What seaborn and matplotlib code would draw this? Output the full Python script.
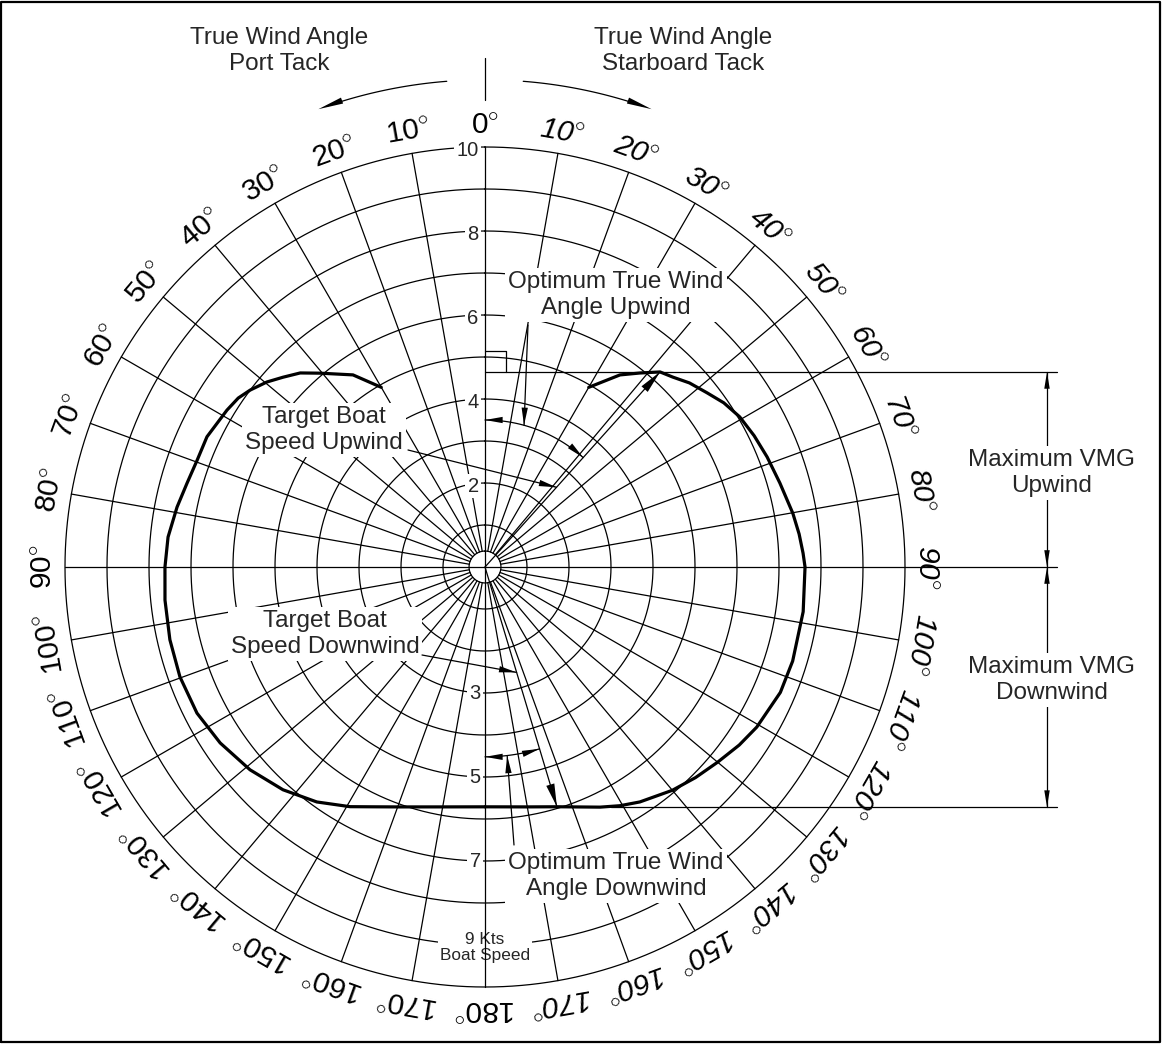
import numpy as np
import pandas as pd
import matplotlib
matplotlib.use("Agg")
import matplotlib.pyplot as plt
import seaborn as sns

# ---------------- data ----------------
stbd_angle = [30, 35.1, 38.6, 41.9, 44.7, 48, 51.9, 55.5, 59.5, 64, 68.7, 74.1, 80.1, 84,
              87.5, 90, 98, 107, 113, 120.5, 125, 130, 135, 140, 146.6, 150.5, 154.4, 163.3, 170, 180]
stbd_speed = [4.94, 5.59, 5.91, 6.24, 6.36, 6.55, 6.72, 6.90, 7.04, 7.13, 7.21, 7.30, 7.44, 7.52,
              7.58, 7.62, 7.65, 7.66, 7.64, 7.51, 7.39, 7.23, 7.09, 6.94, 6.70, 6.53, 6.34, 5.96, 5.80, 5.71]
port_angle = [30, 34.5, 40.4, 43.6, 46.8, 49.7, 53, 55.6, 58.7, 64.9, 69.6, 74.3, 79, 84.6, 90, 95.9, 103,
              109.8, 116.9, 123.6, 130.8, 137.8, 144.4, 150.6, 155, 160.5, 170, 180]
port_speed = [4.94, 5.55, 6.06, 6.38, 6.60, 6.81, 7.00, 7.12, 7.19, 7.31, 7.31, 7.37, 7.47, 7.58, 7.62, 7.66, 7.70,
              7.72, 7.69, 7.57, 7.39, 7.16, 6.88, 6.55, 6.30, 6.06, 5.80, 5.71]

ring_speeds = [1, 2, 3, 4, 5, 6, 7, 8, 9, 10]
upper_ring_labels = [2, 4, 6, 8, 10]
lower_ring_labels = [3, 5, 7]
grid_angles = [10, 20, 30, 40, 50, 60, 70, 80, 100, 110, 120, 130, 140, 150, 160, 170]
degree_labels = list(range(0, 190, 10))
opt_up_angle = 41.9
opt_down_angle = 163.3
up_arc_speed = 3.5
down_arc_speed = 4.52

# ---------------- figure ----------------
sns.set_theme(style="white")
plt.rcParams['font.family'] = ['Liberation Sans', 'DejaVu Sans']
plt.rcParams['mathtext.fontset'] = 'custom'
plt.rcParams['mathtext.rm'] = 'Liberation Sans'

W, H = 1162, 1044
CX, CY, S = 485, 567, 42.0
fig = plt.figure(figsize=(W / 100, H / 100), dpi=100)
ax = fig.add_axes([0, 0, 1, 1])

def px(x, y):
    return (x - CX) / S, (CY - y) / S

def pol(theta, r, side=1):
    t = np.radians(theta)
    return side * r * np.sin(t), r * np.cos(t)

LW = 0.9
K = 'black'

# polar curve (seaborn)
sx = [pol(a, r, 1)[0] for a, r in zip(stbd_angle, stbd_speed)]
sy = [pol(a, r, 1)[1] for a, r in zip(stbd_angle, stbd_speed)]
qx = [pol(a, r, -1)[0] for a, r in zip(port_angle, port_speed)]
qy = [pol(a, r, -1)[1] for a, r in zip(port_angle, port_speed)]
df_s = pd.DataFrame({'x': sx, 'y': sy})
df_p = pd.DataFrame({'x': qx, 'y': qy})
sns.lineplot(data=df_s, x='x', y='y', sort=False, estimator=None, color=K, lw=2.3, ax=ax, zorder=3)
sns.lineplot(data=df_p, x='x', y='y', sort=False, estimator=None, color=K, lw=2.3, ax=ax, zorder=3)
for l in ax.lines:
    l.set_solid_joinstyle('round')
ax.set_xlim(-CX / S, (W - CX) / S)
ax.set_ylim((CY - H) / S, CY / S)
ax.axis('off')

# rings
tt = np.linspace(0, 2 * np.pi, 1441)
for r in ring_speeds:
    ax.plot(r * np.sin(tt), r * np.cos(tt), color=K, lw=LW, zorder=1)
hub = 0.38
ax.plot(hub * np.sin(tt), hub * np.cos(tt), color=K, lw=LW, zorder=1)

# radial grid
for a in grid_angles:
    for side in (1, -1):
        x0, y0 = pol(a, hub, side)
        x1, y1 = pol(a, 10, side)
        ax.plot([x0, x1], [y0, y1], color=K, lw=LW, zorder=1)

# main axes
ax.plot([0, 0], [-10, 10], color=K, lw=LW, zorder=6)
x_right = (1057 - CX) / S
ax.plot([-10, x_right], [0, 0], color=K, lw=LW, zorder=1)

# degree labels
RL = 10.5
DFS = 21.5
for a in degree_labels:
    x, y = pol(a, RL, 1)
    ax.text(x, y, f"{a}" + r"$^{\circ}$", rotation=-a, rotation_mode='anchor', ha='center', va='center',
            fontsize=DFS, color=K, style='italic' if 0 < a < 180 else 'normal')
    if 0 < a < 180:
        x, y = pol(a, RL, -1)
        ax.text(x, y, f"{a}" + r"$^{\circ}$", rotation=a, rotation_mode='anchor', ha='center', va='center',
                fontsize=DFS, color=K)

box = dict(boxstyle='square,pad=0.12', fc='white', ec='none')

# ring labels
for r in upper_ring_labels:
    ax.text(-0.15, r - 0.08, str(r), ha='right', va='center', fontsize=14.5, bbox=box, zorder=4)
for r in lower_ring_labels:
    ax.text(-0.1, -r - 0.02, str(r), ha='right', va='center', fontsize=14.5, bbox=box, zorder=4)
ax.text(0, -9.05, "9 Kts\nBoat Speed", ha='center', va='center', fontsize=12.4,
        linespacing=1.1, bbox=box, zorder=4)

def arrowhead(tip, direction, length=0.42, width=0.15, z=5):
    d = np.asarray(direction, float)
    d = d / np.hypot(*d)
    n = np.array([-d[1], d[0]])
    tip = np.asarray(tip, float)
    base = tip - d * length
    pts = np.array([tip, base + n * width / 2, base - n * width / 2])
    ax.fill(pts[:, 0], pts[:, 1], color=K, lw=0, zorder=z)

def line(p0, p1, lw=LW, z=5):
    ax.plot([p0[0], p1[0]], [p0[1], p1[1]], color=K, lw=lw, zorder=z)

# VMG values
vmg_up = max(r * np.cos(np.radians(a)) for a, r in zip(stbd_angle, stbd_speed))
vmg_dn = min(r * np.cos(np.radians(a)) for a, r in zip(stbd_angle, stbd_speed))
r_opt_up = stbd_speed[stbd_angle.index(opt_up_angle)]
r_opt_dn = stbd_speed[stbd_angle.index(opt_down_angle)]

# VMG lines
line((0, vmg_up), (x_right, vmg_up), z=2)
line((3.0, vmg_dn), (x_right, vmg_dn), z=2)
sq = 0.5
ax.plot([0, sq, sq], [vmg_up + sq, vmg_up + sq, vmg_up], color=K, lw=LW, zorder=2)

# optimum radial lines
tip = pol(opt_up_angle, r_opt_up)
line((0, 0), tip)
arrowhead(tip, tip, length=0.55, width=0.2)
tip = pol(opt_down_angle, r_opt_dn)
line((0, 0), tip)
arrowhead(tip, tip, length=0.55, width=0.2)

# angle dimension arcs
aa = np.linspace(0, opt_up_angle, 100)
ax.plot(*pol(aa, up_arc_speed), color=K, lw=LW, zorder=5)
arrowhead(pol(0, up_arc_speed), (-1, 0))
t1 = np.radians(opt_up_angle)
arrowhead(pol(opt_up_angle, up_arc_speed), (np.cos(t1), -np.sin(t1)))

aa = np.linspace(opt_down_angle, 180, 100)
ax.plot(*pol(aa, down_arc_speed), color=K, lw=LW, zorder=5)
arrowhead(pol(180, down_arc_speed), (-1, 0))
t1 = np.radians(opt_down_angle)
arrowhead(pol(opt_down_angle, down_arc_speed), (-np.cos(t1), np.sin(t1)))

# leaders
def leader(p0, tip, **kw):
    line(p0, tip)
    arrowhead(tip, (tip[0] - p0[0], tip[1] - p0[1]), **kw)

leader(px(528, 325), pol(15.4, up_arc_speed))
leader(px(408, 450), pol(opt_up_angle, 2.55))
leader(px(422, 655), pol(opt_down_angle, 2.62))
leader(px(514, 845), pol(173.3, down_arc_speed))

# annotation texts
FS = 17.5
ax.text(*px(616, 295), "Optimum True Wind\nAngle Upwind", ha='center', va='center', fontsize=FS, bbox=box, zorder=4)
ax.text(*px(616, 876), "Optimum True Wind\nAngle Downwind", ha='center', va='center', fontsize=FS, bbox=box, zorder=4)
ax.text(*px(324, 430), "Target Boat\nSpeed Upwind", ha='center', va='center', fontsize=FS, bbox=box, zorder=4)
ax.text(*px(325, 634), "Target Boat\nSpeed Downwind", ha='center', va='center', fontsize=FS, bbox=box, zorder=4)

# max VMG dimension lines
xd = (1047 - CX) / S
line((xd, vmg_up), (xd, 0), z=2)
line((xd, 0), (xd, vmg_dn), z=2)
arrowhead((xd, vmg_up), (0, 1), length=0.4, width=0.13)
arrowhead((xd, 0), (0, -1), length=0.4, width=0.13)
arrowhead((xd, 0), (0, 1), length=0.4, width=0.13)
arrowhead((xd, vmg_dn), (0, -1), length=0.4, width=0.13)
ax.text(*px(1052, 473), "Maximum VMG\nUpwind", ha='center', va='center', fontsize=FS, bbox=box, zorder=4)
ax.text(*px(1052, 680), "Maximum VMG\nDownwind", ha='center', va='center', fontsize=FS, bbox=box, zorder=4)

# header
ax.text(*px(279, 51), "True Wind Angle\nPort Tack", ha='center', va='center', fontsize=FS)
ax.text(*px(683, 51), "True Wind Angle\nStarboard Tack", ha='center', va='center', fontsize=FS)
RH = 11.6
for side in (1, -1):
    aa = np.linspace(4.5, 19.0, 60)
    ax.plot(*pol(aa, RH, side), color=K, lw=LW)
    tipa = 20.0
    tt1 = np.radians(tipa)
    tip = pol(tipa, RH, side)
    arrowhead(tip, (side * np.cos(tt1), -np.sin(tt1)), length=0.6, width=0.15)
line((0, 11.12), (0, 12.12))

# frame
x0, y0 = px(1, 1042)
x1, y1 = px(1160, 2)
ax.plot([x0, x1, x1, x0, x0], [y0, y0, y1, y1, y0], color=K, lw=1.6, zorder=7)

fig.savefig("out.png", dpi=100)
